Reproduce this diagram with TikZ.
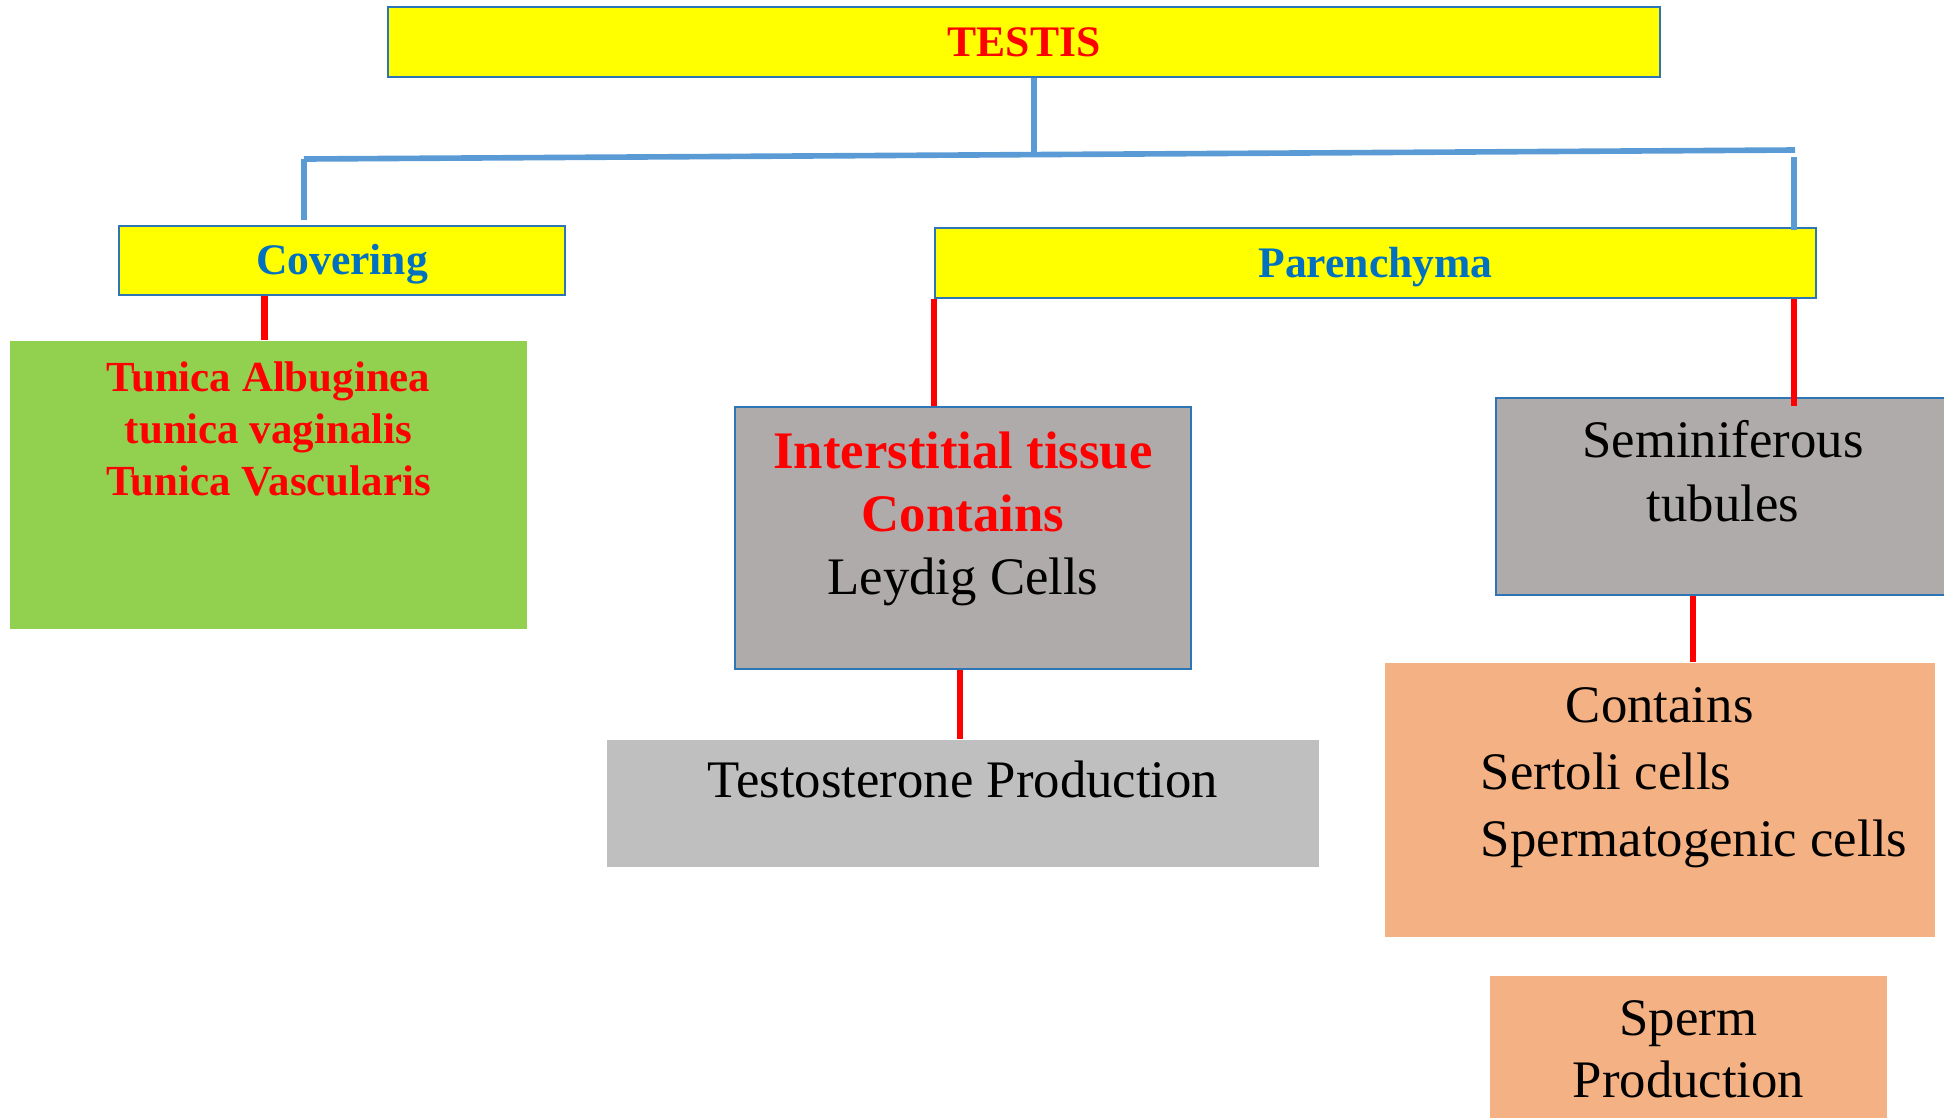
\documentclass[tikz,border=0pt]{standalone}
\usepackage{fontspec}
\setmainfont{Liberation Serif}
\usetikzlibrary{positioning}

\definecolor{boxblue}{HTML}{2E75B6}
\definecolor{linkblue}{HTML}{5B9BD5}
\definecolor{textblue}{HTML}{0070C0}
\definecolor{leafgreen}{HTML}{92D050}
\definecolor{tissuegray}{HTML}{AFABAB}
\definecolor{palegray}{HTML}{BFBFBF}
\definecolor{peach}{HTML}{F4B183}
\definecolor{headyellow}{HTML}{FFFF00}

\begin{document}
\begin{tikzpicture}[x=0.01cm, y=-0.01cm,
    % Node styles
    header/.style={rectangle, draw=boxblue, line width=0.5pt, fill=headyellow, inner sep=0pt,
                   text height=8.2pt, text depth=0pt,
                   font=\fontsize{12.4}{14.9}\selectfont\bfseries},
    panel/.style={rectangle, inner sep=0pt},
    framed/.style={panel, draw=boxblue, line width=0.5pt},
    bodytext/.style={inner sep=0pt, align=center, font=\fontsize{15}{18}\selectfont},
    bluelink/.style={draw=linkblue, line width=1.6pt},
    redlink/.style={draw=red, line width=1.8pt}
]

% Frame of the page
\useasboundingbox (0,0) rectangle (1944,1117);
\clip (0,0) rectangle (1944,1117);

% Headers
\node[header, text=red, minimum width=12.72cm, minimum height=0.7cm] (testis) at (1024,42) {TESTIS};
\node[header, text=textblue, minimum width=4.46cm, minimum height=0.69cm] (covering) at (342,260.5) {Covering};
\node[header, text=textblue, minimum width=8.81cm, minimum height=0.7cm] (parenchyma) at (1375.5,263) {Parenchyma};

% Covering layers
\node[panel, fill=leafgreen, minimum width=5.17cm, minimum height=2.88cm,
      label={[bodytext, text=red, font=\fontsize{12.2}{14.8}\selectfont\bfseries,
              anchor=north, yshift=-0.21cm]north:{Tunica Albuginea\\tunica vaginalis\\Tunica Vascularis}}]
      (tunica) at (268.5,485) {};

% Interstitial side
\node[framed, fill=tissuegray, minimum width=4.56cm, minimum height=2.62cm,
      label={[bodytext, anchor=north, yshift=-0.25cm]north:{\textcolor{red}{\bfseries Interstitial tissue}\\\textcolor{red}{\bfseries Contains}\\Leydig Cells}}]
      (interstitial) at (963,538) {};
\node[panel, fill=palegray, minimum width=7.12cm, minimum height=1.27cm,
      label={[bodytext, anchor=north, yshift=-0.21cm]north:Testosterone Production}]
      (testost) at (963,803.5) {};

% Tubule side
\node[framed, fill=tissuegray, minimum width=4.64cm, minimum height=1.97cm,
      label={[bodytext, anchor=north, xshift=-0.05cm, yshift=-0.23cm]north:{Seminiferous\\tubules}}]
      (seminif) at (1728,496.5) {};
\node[panel, fill=peach, minimum width=5.5cm, minimum height=2.74cm,
      label={[bodytext, align=left, font=\fontsize{15}{19}\selectfont, anchor=north west,
              xshift=0.96cm, yshift=-0.25cm]north west:{\hspace*{0.85cm}Contains\\Sertoli cells\\Spermatogenic cells}}]
      (contains) at (1660,800) {};
\node[panel, fill=peach, minimum width=3.97cm, minimum height=1.54cm,
      label={[bodytext, font=\fontsize{15}{17.6}\selectfont, anchor=north, yshift=-0.25cm]north:{Sperm\\Production}}]
      (sperm) at (1688.5,1053) {};

% Blue branches
\coordinate (busL) at (304,159);
\coordinate (busR) at (1795,150);
\coordinate (busM) at (1034,155);
\coordinate (dropR) at (1794,157);
\draw[bluelink] ([xshift=0.1cm]testis.south) -- (busM);
\draw[bluelink] (busL) -- (busR);
\draw[bluelink, shorten >=0.05cm] (busL) -- (busL |- covering.north);
\draw[bluelink] (dropR) -- ([yshift=-0.03cm]dropR |- parenchyma.north);

% Red links
\draw[redlink] ([xshift=-0.04cm]tunica.north) -- ([xshift=-0.04cm]tunica.north |- covering.south);
\draw[redlink] (parenchyma.south west) -- (parenchyma.south west |- interstitial.north);
\draw[redlink] (dropR |- parenchyma.south) -- ([yshift=-0.09cm]dropR |- seminif.north);
\draw[redlink] ([xshift=-0.03cm]interstitial.south) -- ([xshift=-0.03cm]testost.north);
\draw[redlink] ([xshift=0.33cm]contains.north) -- ([xshift=0.33cm]contains.north |- seminif.south);

\end{tikzpicture}
\end{document}
